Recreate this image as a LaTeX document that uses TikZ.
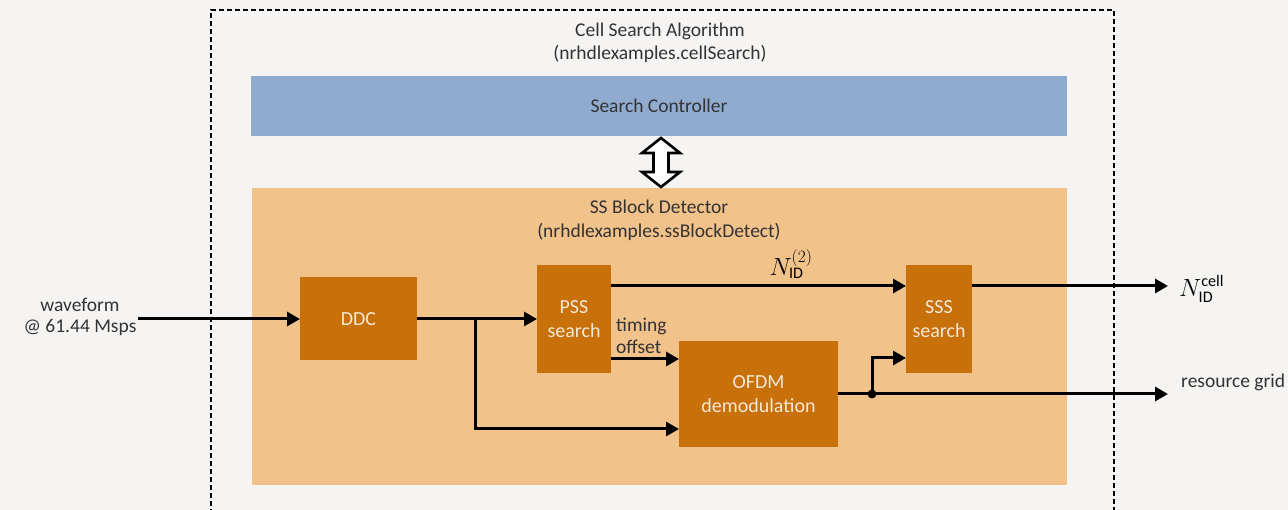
\documentclass[tikz,border=0pt]{standalone}
\usepackage{fontspec}
\setmainfont{Carlito}
\usetikzlibrary{arrows.meta,calc}
\definecolor{bg}{HTML}{F5F4F2}
\definecolor{ctrlblue}{HTML}{8FACD0}
\definecolor{lightor}{HTML}{F2C28B}
\definecolor{darkor}{HTML}{C8700A}
\definecolor{boxtxt}{HTML}{F6E8D8}
\definecolor{lbl}{HTML}{333333}
\tikzset{
  region/.style={draw=none, inner sep=0pt, outer sep=0pt},
  blockbox/.style={fill=darkor, draw=none, inner sep=0pt, outer sep=0pt, text=boxtxt, align=center, font=\fontsize{20}{24}\selectfont},
  lbltext/.style={text=lbl, align=center, font=\fontsize{19.5}{23.5}\selectfont, inner sep=0pt},
  mathlbl/.style={inner sep=0pt, font=\fontsize{23}{26}\selectfont},
  arr/.style={line width=3pt, -{Triangle[length=13pt,width=14pt]}, black},
}
\begin{document}
\begin{tikzpicture}[x=1pt,y=-1pt]
\fill[bg] (0,0) rectangle (1288,510);
\useasboundingbox (0,0) rectangle (1288,510);
% outer dashed box
\draw[line width=2pt, dash pattern=on 5pt off 3pt] (211,530) -- (211,10) -- (1114,10) -- (1114,530);
\node[lbltext] (title) at (660,43) {Cell Search Algorithm\\(nrhdlexamples.cellSearch)};
% controller and detector
\node[region, fill=ctrlblue, minimum width=816pt, minimum height=60pt, font=\fontsize{19.5}{23}\selectfont, text=lbl] (sc) at (659,106) {Search Controller};
\node[region, fill=lightor, minimum width=815pt, minimum height=297pt] (ssb) at (659,336.5) {};
\node[lbltext] (ssbt) at (659,220.5) {SS Block Detector\\(nrhdlexamples.ssBlockDetect)};
% double arrow
\draw[line width=2.6pt, fill=white, line join=miter]
  ($(sc.south)+(2,2)$) -- ++(19,15) -- ++(-11.5,0) -- ++(0,19) -- ++(11.5,0) -- ++(-19,15)
  -- ++(-19,-15) -- ++(11.5,0) -- ++(0,-19) -- ++(-11.5,0) -- cycle;
% blocks
\node[blockbox, minimum width=117pt, minimum height=83pt] (ddc) at (358.5,319) {DDC};
\node[blockbox, minimum width=74pt, minimum height=108pt] (pss) at (574,319) {PSS\\search};
\node[blockbox, minimum width=66pt, minimum height=108pt] (sss) at (939,319) {SSS\\search};
\node[blockbox, minimum width=159pt, minimum height=106pt] (ofdm) at (758.5,394) {OFDM\\demodulation};
% inputs / outputs
\node[lbltext, font=\fontsize{19.5}{21}\selectfont] (wf) at (80,317) {waveform\\@ 61.44 Msps};
\coordinate (win) at (138,319);
\coordinate (br) at (475,319);
\coordinate (dot) at (872,394);
\coordinate (cellout) at (1168,286);
\coordinate (rgout) at (1168,394);
\node[mathlbl, anchor=west] (ncell) at (1179,289) {$N_{\mathrm{ID}}^{\mathrm{cell}}$};
\node[mathlbl] (n2) at (791,264) {$N_{\mathrm{ID}}^{(2)}$};
\node[lbltext, anchor=west] (rg) at (1181,382) {resource grid};
% connectors
\draw[arr] (win) -- (ddc.west);
\draw[arr] (ddc.east) -- (pss.west);
\draw[arr] (br) |- ([yshift=-35pt]ofdm.west);
\draw[arr] ([yshift=33pt]pss.east) -- ([yshift=33pt]pss.east -| sss.west);
\draw[arr] ([yshift=-40pt]pss.east) -- ([yshift=-40pt]pss.east -| ofdm.west);
\node[lbltext, align=left, anchor=west, font=\fontsize{19.5}{22}\selectfont] (tl) at (616,336) {timing\\offset};
\draw[arr] (ofdm.east) -- (rgout);
\fill (dot) circle (4.5pt);
\draw[arr] (dot) |- ([yshift=-39pt]sss.west);
\draw[arr] ([yshift=33pt]sss.east) -- (cellout);
\end{tikzpicture}
\end{document}
